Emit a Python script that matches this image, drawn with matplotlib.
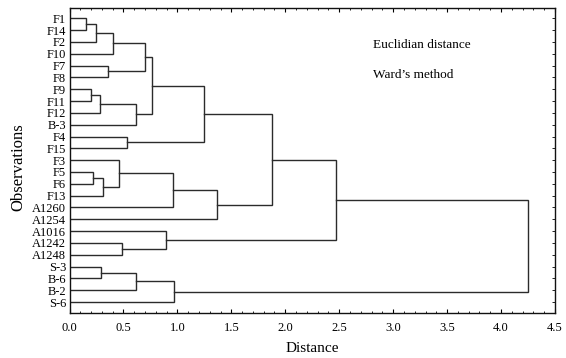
import matplotlib.pyplot as plt
from matplotlib.ticker import MultipleLocator, FormatStrFormatter

# leaves, top to bottom
leaves = ['F1', 'F14', 'F2', 'F10', 'F7', 'F8', 'F9', 'F11', 'F12', 'B-3',
          'F4', 'F15', 'F3', 'F5', 'F6', 'F13', 'A1260', 'A1254', 'A1016',
          'A1242', 'A1248', 'S-3', 'B-6', 'B-2', 'S-6']

# linkage: index < 25 is a leaf, 25+k is the k-th merge
merge_a = [0, 25, 26, 4, 27, 6, 30, 31, 29, 10, 33, 13, 36, 12, 38, 39, 35, 19, 18, 41, 21, 45, 46, 44]
merge_b = [1, 2, 3, 5, 28, 7, 8, 9, 32, 11, 34, 14, 15, 37, 16, 17, 40, 20, 42, 43, 22, 23, 24, 47]
merge_h = [0.15, 0.25, 0.40, 0.36, 0.70, 0.20, 0.28, 0.62, 0.76, 0.53, 1.25,
           0.22, 0.31, 0.46, 0.96, 1.37, 1.88, 0.49, 0.89, 2.47, 0.29, 0.62,
           0.97, 4.25]

plt.rcParams['font.family'] = ['Liberation Serif', 'DejaVu Serif']

fig = plt.figure(figsize=(5.66, 3.58), dpi=100)
ax = fig.add_axes([0.1228, 0.1265, 0.8578, 0.8512])

n = len(leaves)
xpos = {i: 0.0 for i in range(n)}
ypos = {i: float(i) for i in range(n)}

line_color = '#2b2b2b'
for k, (a, b, h) in enumerate(zip(merge_a, merge_b, merge_h)):
    ax.plot([xpos[a], h, h, xpos[b]], [ypos[a], ypos[a], ypos[b], ypos[b]],
            color=line_color, lw=1.0, solid_joinstyle='miter')
    xpos[n + k] = h
    ypos[n + k] = (ypos[a] + ypos[b]) / 2.0

ax.set_xlim(0, 4.5)
ax.set_ylim(24.9, -0.87)

ax.xaxis.set_major_locator(MultipleLocator(0.5))
ax.xaxis.set_minor_locator(MultipleLocator(0.1))
ax.xaxis.set_major_formatter(FormatStrFormatter('%.1f'))
ax.set_yticks(range(n))
ax.set_yticklabels(leaves)

ax.tick_params(axis='x', which='major', direction='in', length=3, width=0.8,
               top=True, labelsize=9, pad=7)
ax.tick_params(axis='x', which='minor', direction='in', length=1.5, width=0.6,
               top=True)
ax.tick_params(axis='y', direction='in', length=2.5, width=0.6, right=True,
               labelsize=9, pad=2.5)

for s in ax.spines.values():
    s.set_linewidth(1.0)
    s.set_color('#111111')

ax.set_xlabel('Distance', fontsize=11)
ax.xaxis.label.set_va('center')
ax.xaxis.set_label_coords(0.5, -0.119)
ax.set_ylabel('Observations', fontsize=12)
ax.yaxis.label.set_va('center')
ax.yaxis.set_label_coords(-0.106, 0.478)

ax.text(0.625, 0.879, 'Euclidian distance', transform=ax.transAxes,
        fontsize=9.5, va='center', ha='left')
ax.text(0.625, 0.78, 'Ward\u2019s method', transform=ax.transAxes,
        fontsize=9.5, va='center', ha='left')

fig.savefig('out.png', dpi=100)
